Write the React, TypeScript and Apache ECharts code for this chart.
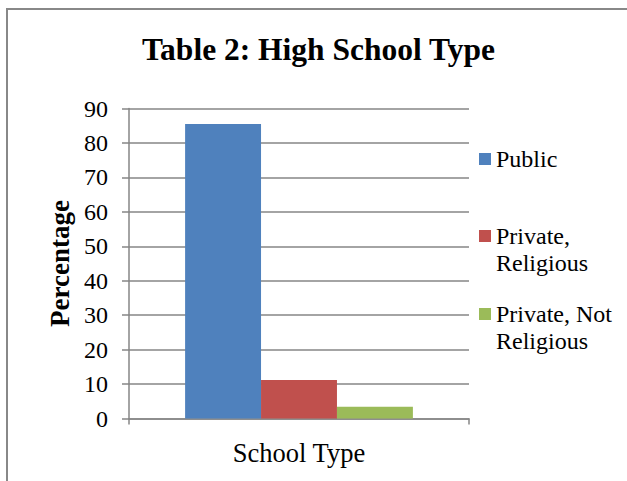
import React, { useEffect, useRef } from "react";
import * as echarts from "echarts";

const categories = ["School Type"];
const seriesNames = ["Public", "Private, Religious", "Private, Not Religious"];
const legendLabels = ["Public", "\nPrivate,\nReligious", "\nPrivate, Not\nReligious"];
const seriesValues = [[85.5], [11.2], [3.4]];
const seriesColors = ["#4F81BD", "#C0504D", "#9BBB59"];
const legendTops = [145.5, 195.5, 273.5];

const FONT = "Liberation Serif";
const GRAY = "#868686";

export default function App() {
  const ref = useRef<HTMLDivElement>(null);
  useEffect(() => {
    if (!ref.current) return;
    const chart = echarts.init(ref.current, undefined, { renderer: "svg" });
    chart.setOption({
      animation: false,
      backgroundColor: "#ffffff",
      textStyle: { fontFamily: FONT },
      title: {
        text: "Table 2: High School Type",
        left: 142,
        top: 33,
        padding: 0,
        textStyle: { fontFamily: FONT, fontSize: 31.5, fontWeight: "bold", color: "#000" },
      },
      graphic: [
        {
          type: "rect",
          shape: { x: 7, y: 9, width: 700, height: 600 },
          style: { fill: "none", stroke: "#888888", lineWidth: 2 },
          silent: true,
        },
      ],
      legend: seriesNames.map((name, i) => ({
        data: [name],
        orient: "vertical",
        left: 479,
        top: legendTops[i],
        padding: 0,
        itemWidth: 12,
        itemHeight: 12,
        itemGap: 0,
        icon: "rect",
        formatter: () => legendLabels[i],
        textStyle: {
          fontFamily: FONT,
          fontSize: 24,
          lineHeight: 27,
          color: "#000",
        },
      })),
      grid: { left: 129, right: 158, top: 108.5, bottom: 62.5, containLabel: false },
      xAxis: {
        type: "category",
        data: categories,
        axisLine: { show: true, lineStyle: { color: GRAY, width: 1.5 } },
        axisTick: { show: true, length: 6, lineStyle: { color: GRAY, width: 1.5 } },
        axisLabel: { fontFamily: FONT, fontSize: 26.5, color: "#000", margin: 21 },
      },
      yAxis: {
        type: "value",
        min: 0,
        max: 90,
        interval: 10,
        name: "Percentage",
        nameLocation: "middle",
        nameRotate: 90,
        nameGap: 55,
        nameTextStyle: { fontFamily: FONT, fontSize: 27, fontWeight: "bold", color: "#000" },
        axisLine: { show: true, lineStyle: { color: GRAY, width: 1.5 } },
        axisTick: { show: true, length: 7, lineStyle: { color: GRAY, width: 1.5 } },
        axisLabel: { fontFamily: FONT, fontSize: 24, color: "#000", margin: 21 },
        splitLine: { show: true, lineStyle: { color: GRAY, width: 1.5 } },
      },
      series: seriesNames.map((name, i) => ({
        name,
        type: "bar",
        data: seriesValues[i],
        barGap: "0%",
        barCategoryGap: "33%",
        itemStyle: { color: seriesColors[i] },
      })),
    });
    return () => chart.dispose();
  }, []);
  return (
    <div
      ref={ref}
      style={{ position: "absolute", left: 0, top: 0, width: 627, height: 481 }}
    />
  );
}
